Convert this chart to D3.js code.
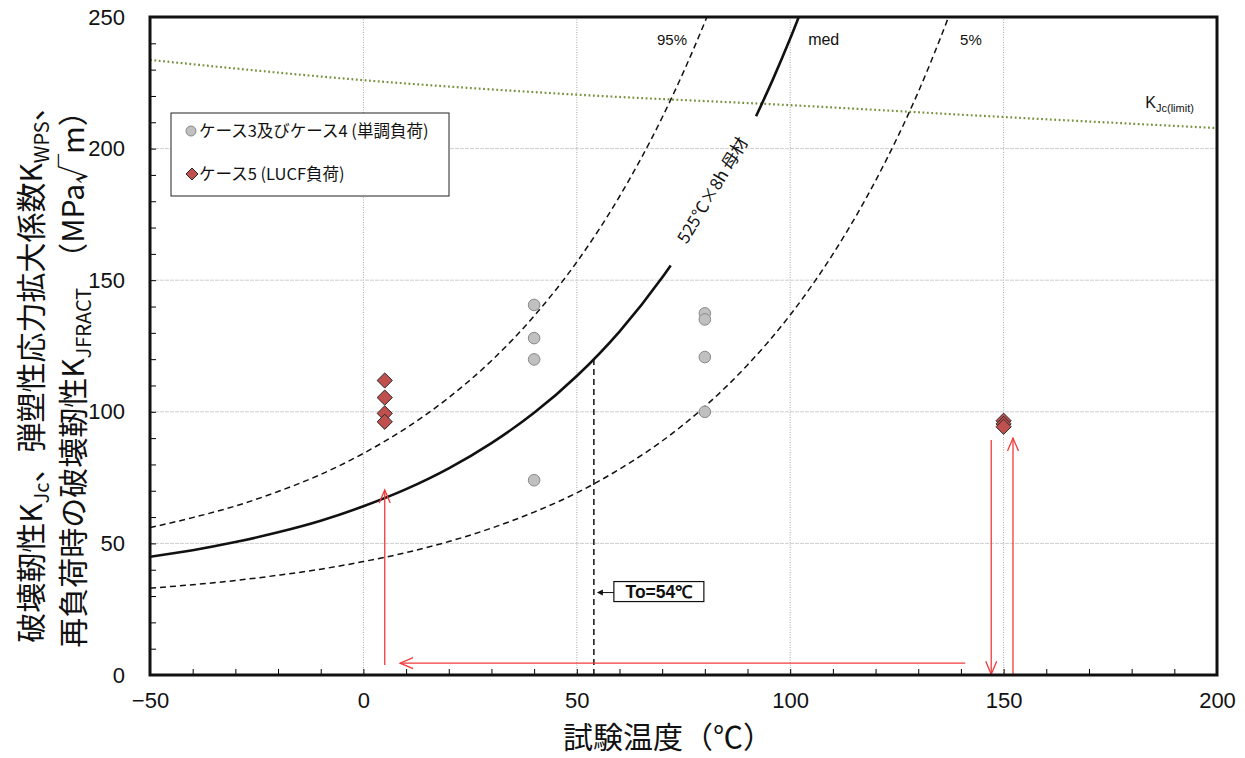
<!DOCTYPE html>
<html><head><meta charset="utf-8">
<script src="https://cdn.jsdelivr.net/npm/d3@7"></script>
<style>
body{margin:0;background:#fff;}
svg{display:block;}
</style></head>
<body>
<svg id="chart" width="1245" height="758"></svg>
<script>
// ---- data ----
const caseA_T = [40, 40, 40, 40, 80, 80, 80, 80];
const caseA_K = [140.6, 128.0, 119.9, 74.0, 137.4, 135.1, 120.8, 100.0];
const caseB_T = [5, 5, 5, 5, 150, 150, 150];
const caseB_K = [111.9, 105.4, 99.4, 96.2, 96.6, 95.4, 94.3];

const medT1 = [-50, -40, -30, -20, -10, 0, 10, 20, 30, 40, 50, 60, 70, 72];
const medK1 = [44.9, 47.4, 50.5, 54.2, 58.6, 64.1, 70.6, 78.5, 88.1, 99.6, 113.6, 130.5, 151.0, 155.6];
const medT2 = [92, 96, 100, 104];
const medK2 = [212.3, 226.5, 241.8, 258.3];
const p95T = [-50, -40, -30, -20, -10, 0, 10, 20, 30, 40, 50, 60, 70, 80, 84];
const p95K = [56.0, 59.8, 64.2, 69.7, 76.2, 84.2, 93.8, 105.4, 119.4, 136.4, 156.9, 181.8, 211.8, 248.1, 264.6];
const p5T = [-50, -40, -30, -20, -10, 0, 10, 20, 30, 40, 50, 60, 70, 80, 90, 100, 110, 120, 130, 140];
const p5K = [33.0, 34.3, 35.9, 37.9, 40.2, 43.1, 46.5, 50.7, 55.8, 61.9, 69.2, 78.2, 88.9, 102.0, 117.8, 136.8, 159.9, 187.8, 221.5, 262.3];
const limT = [-50, 0, 50, 100, 150, 200];
const limK = [233.7, 226.0, 220.5, 216.5, 212.0, 207.8];

const T0 = 54;
const T0_K = 120;

const xTickLabels = [-50, 0, 50, 100, 150, 200];
const yTickLabels = [0, 50, 100, 150, 200, 250];

// red annotation arrows: [T1, K1, T2, K2] (arrow points to T2,K2)
const arrows = [
  [5, 3.8, 5, 70.3],
  [141, 4.5, 8.6, 4.5],
  [147.1, 89.3, 147.1, 0.3],
  [152.2, 0.3, 152.2, 90.0]
];

// ---- layout ----
const svg = d3.select('#chart');
const L = 150, R = 1217, T = 17, B = 675;
const x = d3.scaleLinear().domain([-50, 200]).range([L, R]);
const y = d3.scaleLinear().domain([0, 250]).range([B, T]);
const numFont = 'Liberation Sans, Arial, sans-serif';
const jpFont = '"Noto Sans CJK JP", sans-serif';

svg.append('defs').append('clipPath').attr('id', 'clip')
  .append('rect').attr('x', L).attr('y', T).attr('width', R - L).attr('height', B - T);

// grid
const grid = svg.append('g');
[0, 50, 100, 150].forEach(v => {
  grid.append('line').attr('x1', x(v)).attr('x2', x(v)).attr('y1', T).attr('y2', B)
    .attr('stroke', '#a8a8a8').attr('stroke-width', 1).attr('stroke-dasharray', '1,1.5');
});
[50, 100, 150, 200].forEach(v => {
  grid.append('line').attr('x1', L).attr('x2', R).attr('y1', y(v)).attr('y2', y(v))
    .attr('stroke', '#cfcfcf').attr('stroke-width', 1).attr('stroke-dasharray', '4,1');
});

// axes
const xAxis = d3.axisBottom(x).tickValues(d3.range(-50, 201, 10)).tickSize(-6).tickPadding(17)
  .tickFormat(d => xTickLabels.includes(d) ? d3.format('')(d) : '');
const gx = svg.append('g').attr('transform', `translate(0,${B})`).call(xAxis);
gx.select('.domain').remove();
gx.selectAll('line').attr('stroke', '#000');
gx.selectAll('text').attr('font-family', numFont).attr('font-size', 22).attr('fill', '#111');

const yAxis = d3.axisLeft(y).tickValues(d3.range(0, 251, 10)).tickSize(-6).tickPadding(25)
  .tickFormat(d => yTickLabels.includes(d) ? d : '');
const gy = svg.append('g').attr('transform', `translate(${L},0)`).call(yAxis);
gy.select('.domain').remove();
gy.selectAll('line').attr('stroke', '#000');
gy.selectAll('text').attr('font-family', numFont).attr('font-size', 22).attr('fill', '#111');

// curves
const line = d3.line().x(d => x(d[0])).y(d => y(d[1])).curve(d3.curveMonotoneX);
const plot = svg.append('g').attr('clip-path', 'url(#clip)');
const zip = (a, b) => a.map((v, i) => [v, b[i]]);

plot.append('path').attr('d', line(zip(limT, limK))).attr('fill', 'none')
  .attr('stroke', '#76923c').attr('stroke-width', 2.2).attr('stroke-dasharray', '1.8,2.6');
plot.append('path').attr('d', line(zip(p95T, p95K))).attr('fill', 'none')
  .attr('stroke', '#111').attr('stroke-width', 1.5).attr('stroke-dasharray', '6,4');
plot.append('path').attr('d', line(zip(p5T, p5K))).attr('fill', 'none')
  .attr('stroke', '#111').attr('stroke-width', 1.5).attr('stroke-dasharray', '6,4');
plot.append('path').attr('d', line(zip(medT1, medK1))).attr('fill', 'none')
  .attr('stroke', '#111').attr('stroke-width', 2.6);
plot.append('path').attr('d', line(zip(medT2, medK2))).attr('fill', 'none')
  .attr('stroke', '#111').attr('stroke-width', 2.6);

// T0 dashed vertical
plot.append('line').attr('x1', x(T0)).attr('x2', x(T0)).attr('y1', y(0)).attr('y2', y(T0_K))
  .attr('stroke', '#111').attr('stroke-width', 1.5).attr('stroke-dasharray', '6,4');

// red arrows
const ra = svg.append('g').attr('stroke', '#f23a3a').attr('stroke-width', 1.3).attr('fill', 'none');
arrows.forEach(a => {
  const x1 = x(a[0]), y1 = y(a[1]), x2 = x(a[2]), y2 = y(a[3]);
  ra.append('line').attr('x1', x1).attr('y1', y1).attr('x2', x2).attr('y2', y2);
  const ang = Math.atan2(y2 - y1, x2 - x1);
  const hl = 13, hw = 5.5;
  const bx = x2 - hl * Math.cos(ang), by = y2 - hl * Math.sin(ang);
  const px = -Math.sin(ang) * hw, py = Math.cos(ang) * hw;
  ra.append('polyline').attr('points', `${bx + px},${by + py} ${x2},${y2} ${bx - px},${by - py}`);
});

// points
svg.append('g').selectAll('circle').data(zip(caseA_T, caseA_K)).join('circle')
  .attr('cx', d => x(d[0])).attr('cy', d => y(d[1])).attr('r', 5.8)
  .attr('fill', '#c0c0c0').attr('stroke', '#888').attr('stroke-width', 1);
const dia = 7.6;
svg.append('g').selectAll('path').data(zip(caseB_T, caseB_K)).join('path')
  .attr('d', d => `M${x(d[0])},${y(d[1]) - dia}L${x(d[0]) + dia},${y(d[1])}L${x(d[0])},${y(d[1]) + dia}L${x(d[0]) - dia},${y(d[1])}Z`)
  .attr('fill', '#c0504d').attr('stroke', '#2a2a2a').attr('stroke-width', 1);

// To box
const bx0 = x(T0) + 20, by0 = y(35.5);
svg.append('rect').attr('x', bx0).attr('y', by0).attr('width', 90).attr('height', 20)
  .attr('fill', '#fff').attr('stroke', '#111').attr('stroke-width', 1.2);
svg.append('text').attr('x', bx0 + 45).attr('y', by0 + 16.5).attr('text-anchor', 'middle')
  .attr('font-family', numFont).attr('font-size', 17.5).attr('font-weight', 'bold').attr('fill', '#111')
  .text('To=54℃');
const ay = by0 + 11;
svg.append('line').attr('x1', bx0).attr('x2', x(T0) + 6).attr('y1', ay).attr('y2', ay)
  .attr('stroke', '#111').attr('stroke-width', 1);
svg.append('path').attr('d', `M${x(T0) + 3},${ay}L${x(T0) + 9},${ay - 3}L${x(T0) + 9},${ay + 3}Z`).attr('fill', '#111');

// curve labels
const lab = (t, px, py, size) => svg.append('text').attr('x', px).attr('y', py)
  .attr('font-family', numFont).attr('font-size', size).attr('fill', '#111').text(t);
lab('95%', x(68.8), y(239.5), 15);
lab('med', x(104.2), y(239.5), 16);
lab('5%', x(139.8), y(239.5), 15);
const kl = svg.append('text').attr('x', x(183.2)).attr('y', y(215.5))
  .attr('font-family', numFont).attr('font-size', 16).attr('fill', '#111');
kl.append('tspan').text('K');
kl.append('tspan').attr('font-size', 11).attr('dy', 4).text('Jc(limit)');

svg.append('text').attr('transform', `translate(${x(81.5)},${y(184.5)}) rotate(-59)`)
  .attr('text-anchor', 'middle').attr('dominant-baseline', 'central')
  .attr('font-family', jpFont).attr('font-size', 17).attr('fill', '#111')
  .text('525℃×8h  母材');

// legend
const lg = svg.append('g');
lg.append('rect').attr('x', 171).attr('y', 113).attr('width', 278).attr('height', 83)
  .attr('fill', '#fff').attr('stroke', '#222').attr('stroke-width', 1);
lg.append('circle').attr('cx', 191).attr('cy', 131).attr('r', 5)
  .attr('fill', '#c0c0c0').attr('stroke', '#888');
lg.append('path').attr('d', 'M192,168L198,174L192,180L186,174Z')
  .attr('fill', '#c0504d').attr('stroke', '#2a2a2a');
lg.append('text').attr('x', 199).attr('y', 137).attr('font-family', jpFont).attr('font-size', 16.5).attr('fill', '#111')
  .text('ケース3及びケース4 (単調負荷)');
lg.append('text').attr('x', 199).attr('y', 180).attr('font-family', jpFont).attr('font-size', 16.5).attr('fill', '#111')
  .text('ケース5 (LUCF負荷)');

// axis titles
svg.append('text').attr('x', 668).attr('y', 748).attr('text-anchor', 'middle')
  .attr('font-family', jpFont).attr('font-size', 30).attr('fill', '#111')
  .text('試験温度（℃）');

const yt1 = svg.append('text').attr('transform', 'translate(42,367) rotate(-90)')
  .attr('text-anchor', 'middle').attr('font-family', jpFont).attr('font-size', 30).attr('fill', '#111');
yt1.append('tspan').text('破壊靭性K');
yt1.append('tspan').attr('font-size', 20).attr('dy', 7).text('Jc');
yt1.append('tspan').attr('dy', -7).text('、弾塑性応力拡大係数K');
yt1.append('tspan').attr('font-size', 20).attr('dy', 7).text('WPS');
yt1.append('tspan').attr('dy', -7).text('、');

const yt2 = svg.append('text').attr('transform', 'translate(84,372) rotate(-90)')
  .attr('text-anchor', 'middle').attr('font-family', jpFont).attr('font-size', 30).attr('fill', '#111');
yt2.append('tspan').text('再負荷時の破壊靭性K');
yt2.append('tspan').attr('font-size', 20).attr('dy', 7).text('JFRACT');
yt2.append('tspan').attr('dy', -7).text('　（MPa√m）');

// frame
svg.append('rect').attr('x', L).attr('y', T).attr('width', R - L).attr('height', B - T)
  .attr('fill', 'none').attr('stroke', '#111').attr('stroke-width', 3);
</script>
</body></html>
